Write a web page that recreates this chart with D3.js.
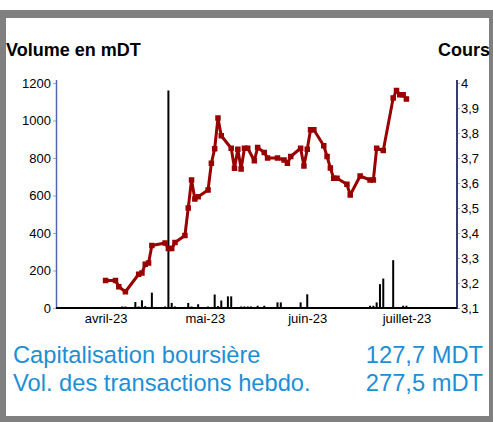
<!DOCTYPE html>
<html>
<head>
<meta charset="utf-8">
<script src="https://cdn.jsdelivr.net/npm/d3@7"></script>
<style>
  body { margin: 0; background: #fff; }
  svg { display: block; font-family: "Liberation Sans", Arial, sans-serif; }
</style>
</head>
<body>
<script>
// cours (price) series
var priceDates = ["2023-04-01","2023-04-04","2023-04-05","2023-04-07","2023-04-11","2023-04-12","2023-04-13","2023-04-14",
  "2023-04-15","2023-04-19","2023-04-20","2023-04-21","2023-04-22","2023-04-25","2023-04-26","2023-04-27","2023-04-28",
  "2023-04-29","2023-05-02","2023-05-03","2023-05-04","2023-05-05","2023-05-06","2023-05-09","2023-05-10","2023-05-11",
  "2023-05-12","2023-05-13","2023-05-14","2023-05-16","2023-05-17","2023-05-19","2023-05-20","2023-05-23","2023-05-25",
  "2023-05-26","2023-05-27","2023-05-30","2023-05-31","2023-06-01","2023-06-02","2023-06-03","2023-06-06","2023-06-07",
  "2023-06-08","2023-06-09","2023-06-10","2023-06-13","2023-06-14","2023-06-17","2023-06-20","2023-06-21","2023-06-22",
  "2023-06-24","2023-06-27","2023-06-28","2023-06-29","2023-06-30","2023-07-01"];
var priceValues = [3.21,3.21,3.185,3.165,3.235,3.24,3.275,3.28,
  3.35,3.36,3.338,3.338,3.362,3.39,3.50,3.612,3.536,
  3.545,3.572,3.679,3.737,3.86,3.789,3.739,3.659,3.735,
  3.656,3.739,3.739,3.689,3.742,3.722,3.70,3.70,3.692,
  3.679,3.706,3.739,3.668,3.735,3.813,3.813,3.749,3.706,
  3.66,3.619,3.619,3.595,3.552,3.628,3.612,3.612,3.739,
  3.73,3.94,3.97,3.953,3.953,3.936];

// volume en mDT
var volDates = ["2023-04-06","2023-04-07","2023-04-10","2023-04-11","2023-04-12","2023-04-13","2023-04-15","2023-04-19",
  "2023-04-20","2023-04-21","2023-04-22","2023-04-26","2023-04-27","2023-04-29","2023-05-02","2023-05-04","2023-05-05",
  "2023-05-06","2023-05-08","2023-05-09","2023-05-12","2023-05-13","2023-05-14","2023-05-15","2023-05-16","2023-05-17",
  "2023-05-19","2023-05-20","2023-05-23","2023-05-24","2023-05-26","2023-05-30","2023-05-31","2023-06-01","2023-06-06",
  "2023-06-08","2023-06-09","2023-06-10","2023-06-14","2023-06-20","2023-06-21","2023-06-22","2023-06-23","2023-06-24",
  "2023-06-27","2023-06-28","2023-06-30","2023-07-01"];
var volValues = [8,8,32,8,41,10,82,8,
  1160,27,8,27,8,20,8,72,10,
  40,62,62,8,8,8,8,5,12,
  12,5,30,30,5,30,5,73,5,
  5,5,5,5,12,12,30,127,157,
  255,5,12,12];

var volTicks = [0,200,400,600,800,1000,1200];
var priceTicks = [3.1,3.2,3.3,3.4,3.5,3.6,3.7,3.8,3.9,4];
var monthDates = ["2023-04-01","2023-05-01","2023-06-01","2023-07-01"];
var monthLabels = ["avril-23","mai-23","juin-23","juillet-23"];

var capLabel = "Capitalisation boursière", capValue = "127,7 MDT";
var volLabel = "Vol. des transactions hebdo.", volValue = "277,5 mDT";

var W = 493, H = 422;
var parse = d3.timeParse("%Y-%m-%d");

var svg = d3.select("body").append("svg")
  .attr("width", W)
  .attr("height", H);

// frame
svg.append("rect").attr("x", 0).attr("y", 10).attr("width", W).attr("height", H - 10).attr("fill", "#808080");
svg.append("rect").attr("x", 6).attr("y", 18).attr("width", 483).attr("height", 398).attr("fill", "#fff");

var x = d3.scaleTime()
  .domain([parse("2023-03-17"), parse("2023-07-16")])
  .range([56, 456]);
var yVol = d3.scaleLinear().domain([0, 1200]).range([308, 83]);
var yPrice = d3.scaleLinear().domain([3.1, 4]).range([308, 83]);

svg.append("text")
  .attr("x", 6).attr("y", 56)
  .style("font-size", "18px").style("font-weight", "bold")
  .text("Volume en mDT");
svg.append("text")
  .attr("x", 490).attr("y", 56)
  .attr("text-anchor", "end")
  .style("font-size", "18px").style("font-weight", "bold")
  .text("Cours");

// volume bars
svg.selectAll(".bar")
  .data(volValues)
  .enter()
  .append("rect")
  .attr("class", "bar")
  .attr("x", function(d, i) { return x(parse(volDates[i])) - 1; })
  .attr("width", 2)
  .attr("y", function(d) { return yVol(d); })
  .attr("height", function(d) { return yVol(0) - yVol(d); })
  .attr("fill", "#000");

// axes
var yAxisL = d3.axisLeft(yVol).tickValues(volTicks).tickFormat(d3.format("d"))
  .tickSize(3).tickSizeOuter(0).tickPadding(2);
var gl = svg.append("g").attr("transform", "translate(56,0)").call(yAxisL);
gl.select(".domain").remove();
gl.selectAll(".tick line").attr("stroke", "#aaa");
gl.selectAll("text").style("font-size", "13px").attr("fill", "#000");

var fr = d3.formatLocale({decimal: ",", thousands: " ", grouping: [3], currency: ["", ""]}).format(".1~f");
var yAxisR = d3.axisRight(yPrice).tickValues(priceTicks).tickFormat(fr).tickSize(3).tickSizeOuter(0).tickPadding(1);
var gr = svg.append("g").attr("transform", "translate(457,0)").call(yAxisR);
gr.select(".domain").remove();
gr.selectAll(".tick line").attr("stroke", "#aaa");
gr.selectAll("text").style("font-size", "13px").attr("fill", "#000");

svg.append("line").attr("x1", 56.5).attr("x2", 56.5).attr("y1", 80).attr("y2", 308)
  .attr("stroke", "#5364ad").attr("stroke-width", 1.5);
svg.append("line").attr("x1", 457).attr("x2", 457).attr("y1", 80).attr("y2", 309)
  .attr("stroke", "#363b78").attr("stroke-width", 2);

var xAxis = d3.axisBottom(x)
  .tickValues(monthDates.map(parse))
  .tickFormat(function(d, i) { return monthLabels[i]; })
  .tickSize(0).tickPadding(6);
var gx = svg.append("g").attr("transform", "translate(0,308)").call(xAxis);
gx.select(".domain").remove();
gx.selectAll("text").style("font-size", "13px").attr("fill", "#000");
svg.append("line").attr("x1", 56).attr("x2", 457).attr("y1", 308).attr("y2", 308)
  .attr("stroke", "#000").attr("stroke-width", 2);

// price line
var line = d3.line()
  .x(function(d, i) { return x(parse(priceDates[i])); })
  .y(function(d) { return yPrice(d); });

svg.append("path")
  .datum(priceValues)
  .attr("fill", "none")
  .attr("stroke", "#990000")
  .attr("stroke-width", 3)
  .attr("stroke-linejoin", "round")
  .attr("d", line);

svg.selectAll(".pt")
  .data(priceValues)
  .enter()
  .append("rect")
  .attr("class", "pt")
  .attr("x", function(d, i) { return x(parse(priceDates[i])) - 2.75; })
  .attr("y", function(d) { return yPrice(d) - 2.75; })
  .attr("width", 5.5)
  .attr("height", 5.5)
  .attr("fill", "#990000");

// footer
var blue = "#1c8fd6";
svg.append("text").attr("x", 13).attr("y", 363).style("font-size", "23.7px").attr("fill", blue).text(capLabel);
svg.append("text").attr("x", 13).attr("y", 391).style("font-size", "23.7px").attr("fill", blue).text(volLabel);
svg.append("text").attr("x", 483).attr("y", 363).attr("text-anchor", "end").style("font-size", "23.7px").attr("fill", blue).text(capValue);
svg.append("text").attr("x", 483).attr("y", 391).attr("text-anchor", "end").style("font-size", "23.7px").attr("fill", blue).text(volValue);
</script>
</body>
</html>
